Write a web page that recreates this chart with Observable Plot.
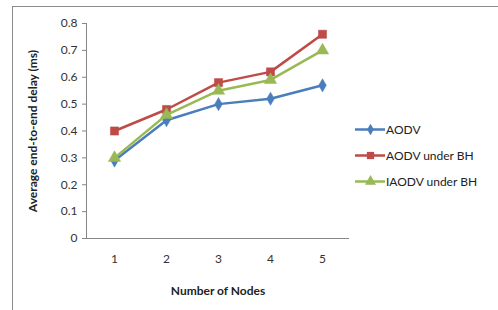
<!DOCTYPE html>
<html><head><meta charset="utf-8">
<script src="https://cdn.jsdelivr.net/npm/d3@7"></script>
<script src="https://cdn.jsdelivr.net/npm/@observablehq/plot@0.6"></script>
<style>
body{margin:0;background:#fff;}
#wrap{position:relative;width:498px;height:310px;overflow:hidden;font-family:Lato,"Open Sans",sans-serif;}
#frame{position:absolute;left:12px;top:6px;width:490px;height:320px;border:1px solid #8c8c8c;box-sizing:border-box;}
#legend{position:absolute;left:355px;top:116px;font-size:12px;color:#222;}
#legend .row{display:flex;align-items:center;height:26px;}
#legend svg{margin-right:1px;}
</style></head>
<body><div id="wrap"><div id="frame"></div><div id="chart"></div><div id="legend"></div></div>
<script>
const nodes = [1, 2, 3, 4, 5];
const aodv = [0.29, 0.44, 0.50, 0.52, 0.57];
const aodvBH = [0.40, 0.48, 0.58, 0.62, 0.76];
const iaodvBH = [0.30, 0.46, 0.55, 0.59, 0.70];
const seriesNames = ["AODV", "AODV under BH", "IAODV under BH"];
const colors = ["#4A7EBB", "#BE4B48", "#98B954"];
const symbols = ["diamond", "square", "triangle"];
const sizes = [4, 4.6, 4.6];
const yTicks = [0, 0.1, 0.2, 0.3, 0.4, 0.5, 0.6, 0.7, 0.8];

const seriesVals = [aodv, aodvBH, iaodvBH];
const data = seriesNames.flatMap((s, i) => nodes.map((n, j) => ({node: n, value: seriesVals[i][j], series: s})));

const marks = [
  Plot.axisY({ticks: yTicks, tickFormat: d => String(+d.toFixed(1)), tickSize: 4, tickPadding: 5, stroke: "#868686", fill: "#333", label: null, fontSize: 12}),
  Plot.axisX({tickSize: 0, tickPadding: 16, fill: "#333", label: null, fontSize: 12}),
  Plot.frame({anchor: "left", stroke: "#868686"}),
  Plot.ruleY([0], {stroke: "#868686"})
];
seriesNames.forEach((s, i) => {
  const d = data.filter(e => e.series === s);
  marks.push(Plot.line(d, {x: "node", y: "value", stroke: colors[i], strokeWidth: 2.5}));
  marks.push(Plot.dot(d, {x: "node", y: "value", fill: colors[i], stroke: colors[i], strokeWidth: 0.5, symbol: symbols[i], r: sizes[i]}));
});
marks.push(Plot.text(["Number of Nodes"], {frameAnchor: "bottom", dy: 56, fontWeight: "bold", fontSize: 12, fill: "#222"}));
marks.push(Plot.text(["Average end-to-end delay (ms)"], {frameAnchor: "left", textAnchor: "middle", dx: -53, rotate: -90, fontWeight: "bold", fontSize: 12, fill: "#222"}));

const chart = Plot.plot({
  width: 498, height: 310,
  marginLeft: 86, marginRight: 149, marginTop: 23, marginBottom: 72,
  x: {type: "point", domain: nodes, padding: 0.5},
  y: {domain: [0, 0.8]},
  style: {fontFamily: "Lato, 'Open Sans', sans-serif", background: "transparent"},
  marks
});
document.getElementById("chart").appendChild(chart);
chart.style.position = "absolute"; chart.style.left = "0"; chart.style.top = "0";

// legend
const leg = document.getElementById("legend");
seriesNames.forEach((s, i) => {
  const row = document.createElement("div"); row.className = "row";
  const sw = Plot.plot({
    width: 30, height: 12, margin: 0, axis: null,
    x: {domain: [0, 2]}, y: {domain: [0, 1]},
    marks: [
      Plot.ruleY([0.5], {stroke: colors[i], strokeWidth: 2.5}),
      Plot.dot([1], {x: d => d, y: () => 0.5, symbol: symbols[i], fill: colors[i], r: sizes[i] - 0.5})
    ]
  });
  row.appendChild(sw);
  const t = document.createElement("span"); t.textContent = s; row.appendChild(t);
  leg.appendChild(row);
});
</script></body></html>
